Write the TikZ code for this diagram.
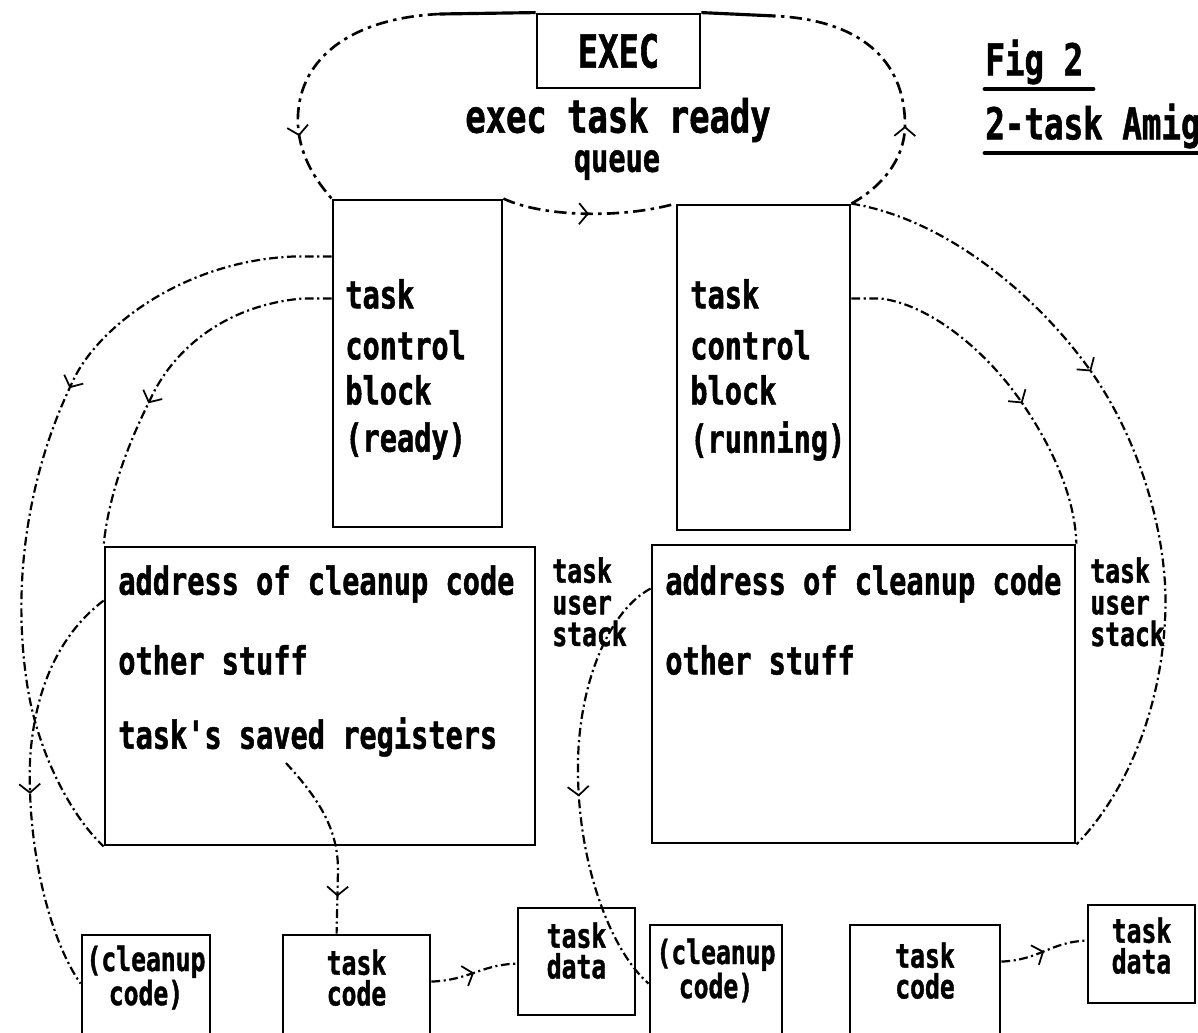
\documentclass[tikz,border=0pt]{standalone}
\usepackage{fontspec}
\newfontfamily\amfont{DejaVu Sans Mono}[FakeStretch=0.74,FakeBold=1.2]
\usetikzlibrary{decorations.markings,arrows.meta,calc,fit}
\begin{document}
\begin{tikzpicture}[x=0.02cm,y=-0.02cm,
  box/.style={draw,line width=1.6pt,inner sep=0pt},
  txt/.style={font=\amfont\bfseries\fontsize{22}{24}\selectfont,inner sep=0pt,anchor=west},
  stxt/.style={font=\amfont\bfseries\fontsize{19}{18}\selectfont,inner sep=0pt,align=left,anchor=north west},
  ctxt/.style={font=\amfont\bfseries\fontsize{19}{17.5}\selectfont,inner sep=0pt,align=center},
  ttl/.style={font=\amfont\bfseries\fontsize{25}{27}\selectfont,inner sep=0pt,anchor=west},
  heavy/.style={line width=1.8pt},
  uline/.style={line width=2.8pt,line cap=round},
  qdash/.style={line width=1.5pt,dash pattern=on 7pt off 3pt on 2pt off 3pt},
  conn/.style={line width=1.25pt,dash pattern=on 5pt off 2pt on 1.2pt off 2pt},
  midarrow/.style={postaction=decorate,decoration={markings,
     mark=at position #1 with {\arrow{Straight Barb[length=5pt,width=12pt,line width=1pt]}}}}
]
\useasboundingbox (0,0) rectangle (1198,1033);
\clip (0,0) rectangle (1198,1033);

% ---------- boxes ----------
\node[box,fit={(537,14) (700,88)}] (exec) {};
\node[box,fit={(333,200) (502,527)}] (tcb1) {};
\node[box,fit={(677,205) (850,530)}] (tcb2) {};
\node[box,fit={(105,547) (535,845)}] (stk1) {};
\node[box,fit={(652,545) (1075,843)}] (stk2) {};
\node[box,fit={(82,935) (210,1070)}] (cln1) {};
\node[box,fit={(283,935) (430,1070)}] (code1) {};
\node[box,fit={(518,908) (635,1015)}] (data1) {};
\node[box,fit={(650,925) (782,1070)}] (cln2) {};
\node[box,fit={(850,925) (1000,1070)}] (code2) {};
\node[box,fit={(1088,905) (1195,1003)}] (data2) {};

% ---------- texts ----------
\node[font=\amfont\bfseries\fontsize{26}{28}\selectfont,inner sep=0pt] (exectxt) at (exec.center) {EXEC};
\node[font=\amfont\bfseries\fontsize{26}{28}\selectfont,inner sep=0pt] (q1) at (618,120) {exec task ready};
\node[font=\amfont\bfseries\fontsize{22}{24}\selectfont,inner sep=0pt] (q2) at (617,165) {queue};

\node[ttl] (fig) at (985,62) {Fig 2};
\node[ttl] (sub) at (985,126) {2-task Amiga};
\draw[uline] (985,89) -- (1093,89);
\draw[uline] (985,153) -- (1205,153);

\node[txt] (a1) at (345,294) {task};
\node[txt] (a2) at (345,345) {control};
\node[txt] (a3) at (345,390) {block};
\node[txt] (a4) at (345,441) {(ready)};

\node[txt] (b1) at (690,294) {task};
\node[txt] (b2) at (690,345) {control};
\node[txt] (b3) at (690,390) {block};
\node[txt] (b4) at (690,441) {(running)};

\node[txt] (s1a) at (118,584) {address of cleanup code};
\node[txt] (s1b) at (118,660) {other stuff};
\node[txt] (regs) at (118,737) {task's saved registers};

\node[txt] (s2a) at (665,584) {address of cleanup code};
\node[txt] (s2b) at (665,660) {other stuff};

\node[stxt] (u1) at (552,557) {task\\user\\stack};
\node[stxt] (u2) at (1090,557) {task\\user\\stack};

\node[ctxt] (t1) at ($(cln1.north)+(0,44)$) {(cleanup\\code)};
\node[ctxt] (t2) at ($(code1.north)+(0,44)$) {task\\code};
\node[ctxt] (t3) at ($(data1.north)+(0,44)$) {task\\data};
\node[ctxt] (t4) at ($(cln2.north)+(0,47)$) {(cleanup\\code)};
\node[ctxt] (t5) at ($(code2.north)+(0,47)$) {task\\code};
\node[ctxt] (t6) at ($(data2.north)+(0,42)$) {task\\data};

% ---------- ready queue loop ----------
\coordinate (qL) at (440,14);
\coordinate (qR) at (775,16);
\draw[heavy] (exec.north west) -- (qL);
\draw[heavy] (exec.north east) -- (qR);
\draw[qdash,midarrow=0.75] (qL) .. controls (350,18) and (295,60) .. (298,125)
   .. controls (300,160) and (320,185) .. (tcb1.north west);
\draw[qdash,midarrow=0.5] (tcb1.north east) .. controls (545,218) and (625,218) .. (tcb2.north west);
\draw[qdash,midarrow=0.34] (tcb2.north east) .. controls (880,188) and (905,160) .. (905,125)
   .. controls (905,60) and (860,20) .. (qR);

% ---------- stack pointers ----------
\draw[conn,midarrow=0.39] ($(tcb1.north west)+(0,58)$) -- ++(-40,0)
   .. controls (180,262) and (95,330) .. (72,383)
   .. controls (30,470) and (10,580) .. (28,690)
   .. controls (40,760) and (75,820) .. (stk1.south west);
\draw[conn,midarrow=0.6] ($(tcb1.north west)+(0,100)$) -- ++(-30,0)
   .. controls (230,305) and (175,345) .. (150,400)
   .. controls (125,450) and (108,500) .. (stk1.north west);
\draw[conn,midarrow=0.37] (tcb2.north east) .. controls (950,220) and (1040,300) .. (1090,370)
   .. controls (1140,440) and (1170,540) .. (1165,620)
   .. controls (1160,720) and (1120,800) .. (stk2.south east);
\draw[conn,midarrow=0.58] ($(tcb2.north east)+(0,95)$) -- ++(30,0)
   .. controls (930,305) and (985,350) .. (1020,400)
   .. controls (1055,450) and (1075,500) .. (stk2.north east);

% ---------- cleanup pointers ----------
\draw[conn,midarrow=0.52] ($(stk1.north west)+(0,55)$)
   .. controls (65,630) and (35,680) .. (30,760)
   .. controls (27,850) and (50,940) .. ($(cln1.north west)+(0,50)$);
\draw[conn,midarrow=0.53] ($(stk2.north west)+(0,45)$)
   .. controls (610,610) and (580,680) .. (578,760)
   .. controls (576,860) and (610,950) .. ($(cln2.north west)+(0,60)$);

% ---------- saved registers -> task code ----------
\draw[conn,midarrow=0.8] ($(regs.south west)+(168,6)$)
   .. controls (320,800) and (338,830) .. (338,870) -- ($(code1.north west)+(55,0)$);

% ---------- task code -> task data ----------
\draw[conn,midarrow=0.5] ($(code1.north east)+(0,48)$) .. controls (470,980) and (480,965) .. ($(data1.north west)+(0,57)$);
\draw[conn,midarrow=0.5] ($(code2.north east)+(0,38)$) .. controls (1040,960) and (1050,942) .. ($(data2.north west)+(0,37)$);
\end{tikzpicture}
\end{document}
